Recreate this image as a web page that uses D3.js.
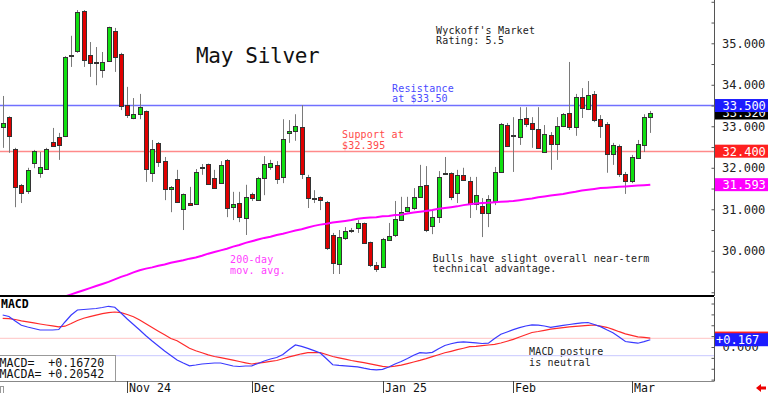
<!DOCTYPE html>
<html>
<head>
<meta charset="utf-8">
<script src="https://cdn.jsdelivr.net/npm/d3@7"></script>
<style>
body { margin: 0; background: #fff; }
svg { display: block; font-family: "DejaVu Sans Mono", monospace; }
</style>
</head>
<body>
<div id="chart"></div>
<script>
// daily May silver bars, Oct 4 2024 .. Mar 6 2025
var open = [32.98,33.22,32.45,31.59,31.44,32.12,31.88,31.98,32.62,32.74,
  32.77,34.69,34.81,35.78,34.72,34.55,34.36,34.58,35.30,34.74,
  33.51,33.20,33.29,33.37,31.88,32.60,32.16,31.48,31.73,31.01,
  31.15,31.13,32.00,32.09,31.75,31.63,32.19,31.05,31.15,30.79,
  31.37,31.22,31.75,32.02,32.07,31.78,32.84,32.89,32.98,31.78,
  31.26,31.30,31.17,30.38,29.68,30.31,30.49,30.55,30.67,30.21,
  29.66,29.61,30.26,30.38,30.74,30.96,31.03,31.30,31.59,30.60,
  30.81,31.86,31.88,31.39,31.83,31.68,31.13,31.08,30.91,31.20,
  31.90,33.03,32.78,32.74,33.20,33.08,32.93,32.38,32.79,32.57,
  33.01,33.32,32.98,33.70,33.42,33.78,33.17,33.05,32.33,32.53,
  31.85,31.68,32.24,32.55,33.22];
var high = [33.73,33.24,32.48,31.61,32.00,32.43,32.38,32.48,32.96,32.84,
  34.69,35.18,35.80,35.80,35.03,34.91,34.79,35.40,35.37,34.77,
  33.95,33.68,33.78,33.38,32.67,32.62,32.26,31.56,31.95,31.38,
  31.54,31.97,32.09,32.10,31.95,32.16,32.21,31.42,31.42,31.59,
  31.40,31.78,32.28,32.19,32.16,33.17,33.15,33.29,33.51,31.83,
  31.46,31.31,31.20,30.43,30.50,30.57,30.55,30.74,30.68,30.22,
  29.73,30.31,30.67,31.20,31.30,31.30,31.51,32.07,32.04,30.98,
  31.92,32.26,31.89,31.95,32.00,31.78,31.78,31.27,31.34,32.02,
  33.08,33.08,33.22,33.46,33.46,33.22,33.46,33.03,32.86,33.22,
  33.32,34.55,33.78,33.92,34.09,33.85,33.27,33.10,32.60,32.56,
  31.90,32.31,32.67,33.29,33.37];
var low = [32.48,32.36,31.05,31.15,31.37,31.99,31.76,31.95,32.50,32.19,
  32.74,34.43,34.77,34.43,34.19,33.99,34.17,34.56,34.31,33.39,
  33.20,33.17,33.17,31.66,31.66,32.02,31.22,30.93,31.15,30.50,
  31.08,31.12,31.83,31.60,31.50,31.61,30.81,30.74,30.69,30.38,
  31.20,31.21,31.34,31.95,31.61,31.63,32.60,32.65,31.73,31.03,
  31.15,30.98,30.02,29.44,29.44,30.26,30.43,30.43,30.18,29.61,
  29.49,29.60,30.25,30.33,30.73,30.93,30.98,31.29,30.45,30.40,
  30.67,31.85,31.22,31.15,31.70,30.79,30.98,30.33,30.57,31.10,
  31.89,32.50,31.90,32.55,32.98,32.48,32.47,32.37,31.95,32.19,
  32.98,32.91,32.77,33.20,33.39,33.10,32.72,31.88,32.07,31.78,
  31.37,31.63,32.22,32.38,32.84];
var close = [33.08,32.77,31.54,31.39,31.95,32.41,32.02,32.45,32.53,32.55,
  34.67,34.72,35.75,34.60,34.53,34.54,34.55,35.39,34.67,33.49,
  33.27,33.29,33.46,31.97,32.45,32.14,31.49,31.53,31.17,31.37,
  31.10,31.90,32.03,31.61,31.51,32.07,31.03,31.13,30.81,31.30,
  31.27,31.75,32.09,32.12,31.73,32.69,32.89,33.01,31.85,31.27,
  31.27,31.22,30.07,29.71,30.33,30.48,30.46,30.67,30.19,29.66,
  29.56,30.28,30.36,30.77,30.93,31.05,31.30,31.56,30.50,30.81,
  31.78,31.88,31.30,31.83,31.71,31.13,31.34,30.91,31.25,31.90,
  33.05,32.53,32.79,33.17,33.05,32.93,32.48,32.81,32.57,33.01,
  33.29,32.98,33.70,33.44,33.75,33.15,33.01,32.33,32.55,31.85,
  31.68,32.26,32.57,33.22,33.32];
var ma200 = [28.40,28.46,28.51,28.57,28.62,28.67,28.72,28.76,28.81,28.85,
  28.90,28.95,29.00,29.05,29.10,29.15,29.20,29.25,29.31,29.37,
  29.42,29.48,29.53,29.57,29.60,29.64,29.67,29.71,29.74,29.77,
  29.81,29.84,29.88,29.93,29.97,30.01,30.05,30.10,30.14,30.19,
  30.23,30.27,30.31,30.34,30.38,30.41,30.45,30.49,30.52,30.56,
  30.60,30.63,30.65,30.68,30.70,30.72,30.74,30.77,30.79,30.80,
  30.81,30.83,30.84,30.86,30.87,30.90,30.92,30.94,30.96,30.98,
  31.01,31.03,31.05,31.07,31.10,31.12,31.14,31.15,31.16,31.17,
  31.18,31.19,31.20,31.22,31.24,31.26,31.29,31.31,31.33,31.35,
  31.37,31.40,31.42,31.45,31.47,31.49,31.51,31.52,31.53,31.54,
  31.55,31.56,31.57,31.58,31.593];
var macd = [0.736,0.701,0.598,0.499,0.460,0.425,0.391,0.391,0.391,0.402,
  0.575,0.736,0.851,0.862,0.874,0.885,0.908,0.936,0.915,0.782,
  0.644,0.517,0.391,0.260,0.138,0.023,-0.092,-0.195,-0.299,-0.368,
  -0.432,-0.414,-0.391,-0.379,-0.368,-0.368,-0.402,-0.437,-0.448,-0.437,
  -0.432,-0.379,-0.322,-0.276,-0.241,-0.172,-0.057,0.046,0.014,-0.032,
  -0.083,-0.138,-0.271,-0.409,-0.423,-0.432,-0.444,-0.455,-0.487,-0.515,
  -0.524,-0.515,-0.460,-0.391,-0.333,-0.264,-0.191,-0.131,-0.140,-0.124,
  -0.041,0.034,0.074,0.106,0.117,0.106,0.094,0.080,0.087,0.195,
  0.292,0.345,0.400,0.444,0.483,0.510,0.503,0.483,0.453,0.474,
  0.497,0.517,0.538,0.556,0.563,0.517,0.469,0.395,0.326,0.232,
  0.126,0.106,0.087,0.124,0.16720];
var macdAvg = [0.660,0.653,0.632,0.600,0.577,0.554,0.529,0.506,0.485,0.464,
  0.478,0.540,0.609,0.662,0.697,0.731,0.766,0.789,0.805,0.789,
  0.747,0.697,0.621,0.533,0.448,0.363,0.280,0.195,0.145,0.057,
  -0.028,-0.087,-0.133,-0.182,-0.218,-0.246,-0.274,-0.303,-0.333,-0.363,
  -0.391,-0.370,-0.352,-0.331,-0.310,-0.269,-0.228,-0.191,-0.156,-0.131,
  -0.131,-0.131,-0.172,-0.218,-0.248,-0.280,-0.310,-0.336,-0.361,-0.389,
  -0.418,-0.446,-0.460,-0.441,-0.418,-0.382,-0.345,-0.308,-0.267,-0.221,
  -0.177,-0.133,-0.099,-0.062,-0.028,0.007,0.016,0.030,0.046,0.060,
  0.092,0.133,0.175,0.230,0.283,0.333,0.356,0.384,0.409,0.428,
  0.446,0.462,0.474,0.485,0.497,0.506,0.478,0.453,0.405,0.352,
  0.303,0.267,0.232,0.223,0.20542];

var monthLabels = ["Nov 24", "Dec", "Jan 25", "Feb", "Mar"];
var monthStart = [20, 40, 61, 82, 101];   // bar index of first session
var priceTicks = [30, 31, 32, 33, 34, 35];
var resistance = 33.50;
var support = 32.395;
var priceTags = [33.32, 33.50, 32.40, 31.593];
var priceTagText = ["33.320", "33.500", "32.400", "31.593"];
var macdGuide = [0.2, -0.2];

var W = 768, H = 393;
var plotRight = 714, mainBottom = 296, macdTop = 297, macdBottom = 381;

var svg = d3.select("#chart").append("svg")
  .attr("width", W).attr("height", H);
svg.append("rect").attr("width", W).attr("height", H).attr("fill", "#fff");

var x = d3.scaleLinear().domain([0, open.length - 1]).range([2.7, 650.3]);
var y = d3.scaleLinear().domain([28.91, 36.043]).range([mainBottom, 0]);
var ym = d3.scaleLinear().domain([0, 1]).range([347, 303.5]);

var defs = svg.append("defs");
defs.append("clipPath").attr("id", "clipMain").append("rect")
  .attr("x", 0).attr("y", 0).attr("width", plotRight).attr("height", mainBottom);
defs.append("clipPath").attr("id", "clipMacd").append("rect")
  .attr("x", 0).attr("y", macdTop).attr("width", plotRight).attr("height", macdBottom - macdTop);

// ---- price panel ----
var main = svg.append("g").attr("clip-path", "url(#clipMain)");

main.append("line")
  .attr("x1", 0).attr("x2", plotRight)
  .attr("y1", y(resistance)).attr("y2", y(resistance))
  .attr("stroke", "#7070ff").attr("stroke-width", 1.5);
main.append("line")
  .attr("x1", 0).attr("x2", plotRight)
  .attr("y1", y(support)).attr("y2", y(support))
  .attr("stroke", "#ff8a8a").attr("stroke-width", 1.5);

var bars = d3.range(open.length);
var cx = function (i) { return Math.round(x(i)); };

main.append("g").selectAll("line").data(bars).join("line")
  .attr("x1", function (i) { return cx(i) + 0.5; })
  .attr("x2", function (i) { return cx(i) + 0.5; })
  .attr("y1", function (i) { return y(high[i]); })
  .attr("y2", function (i) { return y(low[i]); })
  .attr("stroke", "#7a7a7a").attr("stroke-width", 1);

main.append("g").selectAll("rect").data(bars).join("rect")
  .attr("x", function (i) { return cx(i) - 1.5; })
  .attr("width", 4)
  .attr("y", function (i) { return Math.round(y(Math.max(open[i], close[i]))) + 0.5; })
  .attr("height", function (i) {
    return Math.max(1, Math.round(Math.abs(y(open[i]) - y(close[i]))));
  })
  .attr("fill", function (i) { return close[i] >= open[i] ? "#10e010" : "#e00000"; })
  .attr("stroke", "#333").attr("stroke-width", 1);

main.append("path")
  .datum(bars)
  .attr("fill", "none")
  .attr("stroke", "#ff00ff")
  .attr("stroke-width", 2)
  .attr("d", d3.line().x(function (i) { return x(i); }).y(function (i) { return y(ma200[i]); }));

// right price axis: minor ticks inside, labels outside
svg.append("g")
  .attr("transform", "translate(" + (plotRight + 0.5) + ",0)")
  .call(d3.axisLeft(y).tickValues(d3.range(29, 36.01, 0.5)).tickSize(3).tickFormat(""))
  .call(function (g) {
    g.select(".domain").attr("stroke", "#555").attr("d", "M0,0V" + mainBottom);
    g.selectAll(".tick line").attr("stroke", "#555");
  });
svg.append("g")
  .attr("transform", "translate(" + plotRight + ",0)")
  .call(d3.axisRight(y).tickValues(priceTicks).tickSize(0).tickPadding(8)
    .tickFormat(d3.format(".3f")))
  .call(function (g) {
    g.select(".domain").remove();
    g.selectAll("text").attr("font-family", "DejaVu Sans Mono, monospace")
      .attr("font-size", 12).attr("fill", "#222");
  });

// current-value tags
var tagColors = ["#000000", "#1c1cff", "#ff2020", "#ff00ff"];
var tags = svg.append("g");
priceTags.forEach(function (v, k) {
  var cy = y(v);
  tags.append("rect").attr("x", 715).attr("y", cy - 6.5)
    .attr("width", 53).attr("height", 13).attr("fill", tagColors[k]);
  tags.append("text").attr("x", 722.5).attr("y", cy + 4.4)
    .attr("font-size", 12).attr("fill", "#fff").text(priceTagText[k]);
});

svg.append("line")
  .attr("x1", 0).attr("x2", plotRight)
  .attr("y1", mainBottom).attr("y2", mainBottom)
  .attr("stroke", "#000").attr("stroke-width", 2);

// annotations
svg.append("text").attr("x", 196).attr("y", 62.5)
  .attr("font-size", 21).attr("letter-spacing", -0.3).attr("fill", "#111")
  .text("May Silver");

function note(lines, x0, y0, color) {
  var t = svg.append("text").attr("font-size", 10)
    .attr("letter-spacing", 0.18).attr("fill", color);
  lines.forEach(function (s, k) {
    t.append("tspan").attr("x", x0).attr("y", y0 + k * 10.5).text(s);
  });
}
note(["Wyckoff's Market", "Rating: 5.5"], 436, 33.5, "#222");
note(["Resistance", "at $33.50"], 392, 91.7, "#4a4aff");
note(["Support at", "$32.395"], 342, 138.4, "#ff4a4a");
note(["200-day", "mov. avg."], 230, 263, "#ff3cff");
note(["Bulls have slight overall near-term", "technical advantage."], 432.5, 261.5, "#222");
note(["MACD posture", "is neutral"], 529, 355, "#222");

// ---- MACD panel ----
var mp = svg.append("g").attr("clip-path", "url(#clipMacd)");
mp.append("line").attr("x1", 0).attr("x2", plotRight)
  .attr("y1", ym(macdGuide[0])).attr("y2", ym(macdGuide[0]))
  .attr("stroke", "#ffc4c4").attr("stroke-width", 1);
mp.append("line").attr("x1", 0).attr("x2", plotRight)
  .attr("y1", ym(macdGuide[1])).attr("y2", ym(macdGuide[1]))
  .attr("stroke", "#c8c8ff").attr("stroke-width", 1);

mp.append("path").datum(bars)
  .attr("fill", "none").attr("stroke", "#ff2a2a").attr("stroke-width", 1.2)
  .attr("d", d3.line().x(function (i) { return x(i); }).y(function (i) { return ym(macdAvg[i]); }));
mp.append("path").datum(bars)
  .attr("fill", "none").attr("stroke", "#3a3aff").attr("stroke-width", 1.2)
  .attr("d", d3.line().x(function (i) { return x(i); }).y(function (i) { return ym(macd[i]); }));

svg.append("text").attr("x", 1).attr("y", 307.5)
  .attr("font-size", 11.5).attr("font-weight", "bold").attr("fill", "#000").text("MACD");

// legend box
svg.append("rect").attr("x", -1).attr("y", 355.5).attr("width", 116.5).attr("height", 26)
  .attr("fill", "#fff").attr("stroke", "#999");
var leg = svg.append("text").attr("font-size", 11.6).attr("fill", "#111")
  .style("white-space", "pre");
leg.append("tspan").attr("x", -0.5).attr("y", 366.5)
  .text("MACD=  " + d3.format("+.5f")(macd[macd.length - 1]));
leg.append("tspan").attr("x", -0.5).attr("y", 377.5)
  .text("MACDA= " + d3.format("+.5f")(macdAvg[macdAvg.length - 1]));

// MACD right axis
svg.append("g")
  .attr("transform", "translate(" + (plotRight + 0.5) + ",0)")
  .call(d3.axisLeft(ym).tickValues(d3.range(-0.75, 1.01, 0.25)).tickSize(3).tickFormat(""))
  .call(function (g) {
    g.select(".domain").attr("stroke", "#555").attr("d", "M0," + macdTop + "V" + macdBottom);
    g.selectAll(".tick line").attr("stroke", "#555");
  });
svg.append("text").attr("x", 722.5).attr("y", ym(0) + 4.4)
  .attr("font-size", 12).attr("fill", "#222").text("0.000");
var lastAvg = macdAvg[macdAvg.length - 1], lastMacd = macd[macd.length - 1];
svg.append("rect").attr("x", 715).attr("y", ym(lastAvg) - 6.5)
  .attr("width", 53).attr("height", 13).attr("fill", "#ff2020");
svg.append("rect").attr("x", 715).attr("y", ym(lastMacd) - 6.5)
  .attr("width", 53).attr("height", 13).attr("fill", "#1c1cff");
svg.append("text").attr("x", 716).attr("y", ym(lastMacd) + 4.4)
  .attr("font-size", 12).attr("fill", "#fff").text(d3.format("+.3f")(lastMacd));

svg.append("line").attr("x1", 0).attr("x2", plotRight + 0.5)
  .attr("y1", macdBottom + 0.5).attr("y2", macdBottom + 0.5)
  .attr("stroke", "#888");

// month axis
var months = svg.append("g");
monthStart.forEach(function (i, k) {
  var mx = cx(i) + 0.5;
  months.append("line").attr("x1", mx).attr("x2", mx)
    .attr("y1", macdBottom).attr("y2", H).attr("stroke", "#444");
  months.append("text").attr("x", mx + 1.5).attr("y", 392)
    .attr("font-size", 11.6).attr("fill", "#111").text(monthLabels[k]);
});
svg.append("rect").attr("x", 0.5).attr("y", 386.5).attr("width", 3).attr("height", 7)
  .attr("fill", "none").attr("stroke", "#999");
svg.append("path")
  .attr("d", "M756,388L761,384V386.5H766V389.5H761V392Z")
  .attr("fill", "#ee0000");
</script>
</body>
</html>
